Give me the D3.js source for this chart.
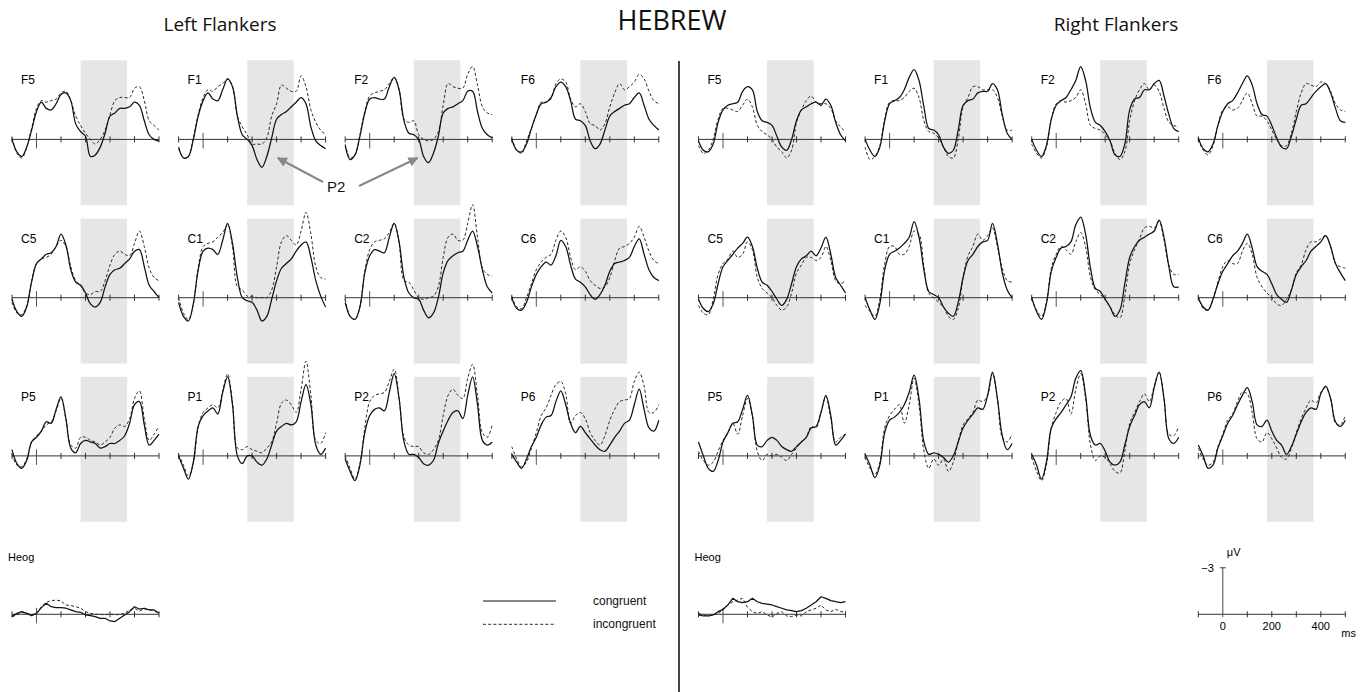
<!DOCTYPE html>
<html>
<head>
<meta charset="utf-8">
<script src="https://cdn.jsdelivr.net/npm/d3@7"></script>
<style>
  html, body { margin: 0; padding: 0; background: #fff; }
  svg { display: block; }
</style>
</head>
<body>
<svg id="chart" width="1368" height="692"></svg>
<script>
// ---- sampling grid and axis definitions ----
const timesMs = [-100,-80,-60,-40,-20,0,20,40,60,80,100,120,140,160,180,200,220,240,260,280,300,320,340,360,380,400,420,440,460,480,500];
const timeAxisMs = [-100,0,100,200,300,400,500];
const scaleLabelsMs = [0,200,400];
const scaleBarUv = -3;
const p2WindowMs = [180,370];
const voltRange = [-5.1, 4.25];           // negative up
const electrodeRows = [["F5","F1","F2","F6"],["C5","C1","C2","C6"],["P5","P1","P2","P6"]];
const conditionNames = ["congruent","incongruent"];

// ---- Left flankers: grand averages (µV), congruent / incongruent ----
const leftF5Con = [0.0,0.8,1.1,0.5,-0.6,-1.8,-2.4,-2.0,-1.9,-2.3,-2.9,-3.0,-2.5,-1.0,-0.5,-0.2,1.1,1.0,0.5,-0.4,-1.5,-1.7,-2.0,-2.0,-2.1,-2.4,-2.2,-1.2,-0.3,0.0,0.1];
const leftF5Inc = [-0.1,0.9,1.2,0.5,-0.7,-2.0,-2.5,-2.4,-2.5,-2.6,-3.0,-3.1,-2.5,-1.5,-0.9,-0.4,0.0,0.3,0.0,-0.6,-1.6,-2.5,-2.7,-2.7,-2.7,-3.3,-3.4,-2.5,-1.2,-0.9,-0.6];
const leftF1Con = [0.5,1.2,1.1,0.0,-1.5,-2.5,-3.0,-2.6,-2.5,-3.2,-3.9,-3.4,-1.5,-0.3,0.0,0.4,1.3,1.8,1.1,-0.1,-1.3,-1.6,-1.8,-2.1,-2.4,-2.7,-2.3,-0.8,0.1,0.4,0.6];
const leftF1Inc = [0.6,1.2,1.1,-0.1,-1.6,-2.7,-3.2,-3.1,-3.4,-3.6,-3.9,-3.4,-1.5,-0.8,-0.3,0.3,0.3,0.3,-0.1,-1.5,-2.3,-3.5,-3.3,-3.1,-3.1,-4.1,-3.4,-1.9,-1.1,-0.6,-0.3];
const leftF2Con = [0.4,1.3,1.0,-0.2,-1.7,-2.6,-2.7,-2.6,-2.6,-3.4,-4.0,-3.2,-1.2,-0.4,-0.3,0.0,1.1,1.5,0.9,-0.2,-1.7,-2.0,-2.1,-2.3,-2.5,-3.1,-3.1,-1.8,-0.7,-0.3,-0.1];
const leftF2Inc = [0.3,1.2,1.0,-0.3,-1.8,-2.8,-3.0,-3.1,-3.2,-3.6,-4.0,-3.2,-1.3,-1.1,-1.2,-0.3,0.0,0.1,0.0,-0.5,-2.2,-3.6,-3.4,-3.3,-3.3,-4.2,-4.7,-3.5,-2.1,-1.7,-1.6];
const leftF6Con = [0.0,0.7,0.8,0.3,-0.7,-1.6,-2.3,-2.4,-2.7,-3.4,-3.7,-3.4,-2.5,-1.3,-1.2,-0.9,0.1,0.6,0.3,-0.6,-1.5,-1.8,-2.0,-2.2,-2.3,-2.7,-3.0,-2.2,-1.3,-0.9,-0.6];
const leftF6Inc = [-0.1,0.7,0.9,0.1,-0.7,-1.6,-2.4,-2.4,-2.6,-3.6,-3.9,-3.7,-2.6,-2.1,-2.3,-1.8,-1.0,-0.9,-0.6,-1.0,-2.1,-3.0,-3.6,-3.2,-3.4,-3.7,-4.2,-3.9,-3.1,-2.5,-2.3];
const leftC5Con = [0.1,0.9,1.2,0.6,-1.0,-2.2,-2.5,-2.8,-2.9,-3.3,-4.1,-3.4,-1.8,-1.0,-0.8,-0.3,0.4,0.6,0.3,-0.7,-1.5,-1.8,-1.9,-2.2,-2.5,-3.0,-3.1,-2.0,-0.8,-0.4,0.0];
const leftC5Inc = [0.3,1.0,1.1,0.5,-1.1,-2.2,-2.5,-2.6,-2.8,-3.3,-3.7,-3.3,-2.0,-1.1,-0.8,-0.3,-0.2,-0.4,-0.4,-1.1,-2.1,-2.8,-3.0,-2.8,-2.7,-3.5,-4.3,-3.3,-1.9,-1.3,-1.1];
const leftC1Con = [0.3,1.2,1.5,0.4,-1.8,-3.0,-3.2,-3.1,-2.8,-3.7,-4.8,-3.5,-1.3,0.0,0.2,0.3,0.8,1.5,1.2,0.1,-1.1,-1.9,-2.2,-2.5,-3.0,-3.4,-3.6,-2.6,-1.1,-0.1,0.6];
const leftC1Inc = [0.0,1.0,1.4,0.4,-1.9,-3.3,-3.5,-3.6,-3.9,-4.2,-4.7,-3.3,-0.7,-0.5,-0.1,-0.1,0.0,0.0,0.0,-0.5,-2.0,-3.6,-4.0,-3.7,-3.4,-4.3,-5.5,-4.1,-2.0,-1.3,-1.2];
const leftC2Con = [0.3,1.2,1.4,0.6,-1.6,-2.7,-3.1,-3.0,-2.9,-3.9,-4.8,-3.6,-1.3,-0.3,0.0,0.1,0.8,1.3,1.0,0.0,-1.6,-2.4,-2.7,-2.9,-3.0,-3.7,-4.3,-3.3,-1.8,-0.7,-0.3];
const leftC2Inc = [0.1,1.2,1.4,0.6,-1.7,-3.1,-3.6,-3.7,-3.8,-4.2,-4.8,-3.5,-1.1,-1.0,-0.5,0.0,0.1,0.0,-0.1,-0.7,-2.6,-3.9,-4.1,-3.7,-3.7,-4.8,-6.0,-3.9,-1.9,-1.5,-1.4];
const leftC6Con = [0.0,0.7,0.8,0.3,-0.7,-1.5,-2.0,-2.3,-2.1,-2.7,-3.7,-3.3,-2.1,-1.2,-1.0,-0.7,-0.2,0.1,-0.2,-0.8,-1.7,-2.2,-2.3,-2.4,-2.6,-3.3,-3.8,-2.8,-1.8,-1.3,-1.1];
const leftC6Inc = [-0.1,0.6,0.7,0.0,-0.9,-1.8,-2.3,-2.6,-2.8,-3.7,-4.3,-3.9,-2.6,-1.8,-2.0,-1.7,-1.1,-0.8,-0.6,-0.7,-1.3,-2.4,-3.2,-3.3,-3.5,-3.9,-4.6,-3.9,-3.0,-2.4,-2.2];
const leftP5Con = [-0.4,0.5,0.8,0.3,-0.9,-1.2,-1.6,-2.2,-2.1,-3.0,-3.8,-2.4,-0.5,-0.2,-0.8,-1.0,-0.9,-0.8,-0.5,-0.6,-0.8,-0.8,-1.0,-1.3,-2.1,-3.3,-3.5,-2.0,-0.7,-1.0,-1.4];
const leftP5Inc = [-0.1,0.6,0.7,0.2,-0.9,-1.3,-1.6,-2.0,-2.2,-2.9,-3.7,-2.4,-0.7,-0.5,-1.2,-1.2,-1.0,-0.9,-0.7,-0.9,-1.2,-1.8,-2.0,-1.9,-2.4,-3.7,-4.2,-2.4,-1.0,-1.4,-1.9];
const leftP1Con = [0.0,0.8,1.5,0.4,-1.9,-2.6,-2.9,-3.1,-2.7,-4.1,-5.1,-3.3,0.0,0.5,0.0,0.0,0.4,0.6,0.2,-0.7,-1.6,-1.9,-2.1,-2.0,-2.2,-3.5,-4.6,-3.3,-0.7,-0.1,-0.5];
const leftP1Inc = [-0.1,0.6,1.3,0.5,-1.9,-2.8,-3.1,-3.3,-3.1,-4.2,-5.3,-3.4,-0.5,-0.4,-0.6,-0.4,-0.3,-0.2,-0.5,-0.9,-2.1,-3.4,-3.6,-3.3,-2.8,-4.3,-6.1,-3.9,-1.0,-0.8,-1.5];
const leftP2Con = [0.2,1.0,1.6,0.6,-1.5,-2.6,-3.0,-3.1,-2.9,-4.1,-5.3,-3.7,-0.9,-0.1,-0.1,0.1,0.5,0.6,0.3,-0.8,-1.6,-2.3,-2.8,-2.9,-2.4,-3.9,-5.1,-3.3,-1.0,-0.7,-0.9];
const leftP2Inc = [0.0,0.8,1.5,0.5,-1.8,-3.5,-3.9,-4.0,-4.1,-4.8,-5.6,-3.7,-1.2,-0.7,-0.6,-0.6,-0.2,-0.1,-0.4,-1.0,-2.6,-3.9,-4.3,-3.9,-3.7,-5.0,-5.9,-3.9,-1.5,-1.2,-2.0];
const leftP6Con = [-0.1,0.4,0.8,0.2,-0.6,-1.2,-2.0,-2.5,-2.6,-3.5,-4.2,-3.3,-2.1,-1.5,-1.9,-1.5,-1.1,-0.7,-0.4,-0.3,-0.7,-1.2,-1.6,-2.1,-2.3,-3.3,-4.3,-3.0,-1.8,-1.6,-2.3];
const leftP6Inc = [-0.6,0.2,0.7,0.4,-0.5,-1.5,-2.6,-3.1,-3.9,-4.6,-4.8,-4.0,-2.1,-2.6,-2.8,-2.4,-1.5,-1.0,-0.7,-1.3,-2.3,-3.0,-3.5,-3.6,-3.7,-4.8,-5.4,-4.5,-2.8,-2.8,-3.3];
const leftHeogCon = [0.15,-0.06,-0.17,-0.06,0.09,-0.06,-0.43,-0.71,-0.49,-0.43,-0.43,-0.39,-0.28,-0.17,-0.13,0.04,0.09,0.15,0.26,0.26,0.43,0.47,0.26,0.04,-0.17,-0.49,-0.34,-0.39,-0.28,-0.28,-0.06];
const leftHeogInc = [0.15,0.04,-0.13,-0.06,0.04,-0.06,-0.49,-0.77,-0.88,-0.92,-0.86,-0.6,-0.56,-0.49,-0.39,-0.17,-0.06,0,0,0.04,-0.02,0.04,0,-0.06,-0.28,-0.39,-0.21,-0.34,-0.28,-0.24,-0.06];

// ---- Right flankers: grand averages (µV), congruent / incongruent ----
const rightF5Con = [0.1,0.7,0.8,0.3,-1.1,-1.9,-2.2,-2.3,-2.4,-3.1,-3.4,-3.2,-1.8,-1.2,-1.1,-0.9,-0.2,0.5,0.7,0.0,-1.2,-1.9,-2.1,-2.3,-2.4,-2.2,-2.6,-2.2,-1.1,-0.3,0.1];
const rightF5Inc = [0.4,0.9,0.7,0.0,-1.3,-2.0,-2.0,-1.9,-1.8,-2.2,-2.6,-2.1,-0.9,-0.5,-0.3,0.0,0.5,0.8,1.2,0.7,-1.1,-1.9,-2.5,-2.8,-2.4,-2.3,-2.3,-2.0,-1.2,-0.8,-0.5];
const rightF1Con = [0.0,0.7,1.1,0.5,-1.2,-2.3,-2.5,-2.7,-3.2,-4.0,-4.5,-3.8,-2.1,-0.7,-0.6,-0.3,0.5,0.9,0.7,-0.6,-2.2,-2.5,-2.6,-3.0,-3.1,-3.1,-3.6,-3.2,-1.6,-0.4,0.0];
const rightF1Inc = [0.5,1.3,1.1,0.4,-1.3,-2.4,-2.5,-2.5,-2.7,-3.1,-3.3,-2.7,-1.2,-0.5,-0.4,-0.1,0.5,1.1,1.2,0.0,-2.1,-2.7,-3.4,-3.4,-3.2,-3.2,-3.2,-2.7,-1.5,-0.6,-0.6];
const rightF2Con = [0.0,0.7,1.1,0.4,-1.3,-2.2,-2.5,-2.7,-3.2,-3.8,-4.7,-3.8,-2.0,-1.1,-0.9,-0.5,0.1,1.0,1.1,0.3,-1.9,-2.6,-2.7,-3.2,-3.2,-3.6,-3.8,-2.8,-1.6,-0.7,-0.5];
const rightF2Inc = [0.3,0.9,1.2,0.5,-1.3,-2.3,-2.5,-2.4,-2.5,-2.7,-3.2,-2.3,-0.9,-0.7,-0.6,-0.3,0.1,0.9,1.3,0.8,-1.2,-2.5,-3.2,-3.6,-3.2,-3.5,-3.1,-2.0,-1.1,-0.9,-0.8];
const rightF6Con = [-0.1,0.6,0.8,0.3,-0.9,-1.8,-2.3,-2.5,-3.0,-3.6,-4.1,-3.5,-2.3,-1.6,-1.5,-0.9,-0.1,0.5,0.6,-0.2,-1.3,-2.2,-2.3,-2.7,-3.1,-3.4,-3.6,-3.0,-2.0,-1.2,-1.1];
const rightF6Inc = [0.0,0.7,1.0,0.4,-0.9,-1.9,-2.1,-1.9,-2.0,-2.5,-3.0,-2.3,-1.5,-1.5,-1.2,-0.6,0.0,0.4,0.4,-0.4,-1.8,-3.0,-3.6,-3.5,-3.4,-3.7,-3.6,-3.1,-2.3,-1.9,-1.8];
const rightC5Con = [0.1,0.7,0.9,0.4,-0.9,-2.0,-2.4,-2.8,-3.2,-3.5,-3.9,-3.3,-1.9,-1.0,-0.8,-0.4,0.1,0.5,0.1,-0.9,-2.0,-2.5,-2.7,-3.0,-2.7,-3.2,-3.9,-2.8,-1.3,-0.8,-0.3];
const rightC5Inc = [0.5,1.0,1.1,0.1,-1.5,-2.2,-2.5,-3.0,-2.6,-2.8,-3.6,-3.1,-1.3,-0.6,-0.3,0.0,0.5,0.8,0.6,-0.3,-1.6,-2.1,-2.6,-2.6,-2.4,-2.6,-3.3,-2.4,-1.1,-0.9,-1.1];
const rightC1Con = [0.0,0.8,1.4,0.4,-1.8,-2.8,-3.0,-3.2,-3.5,-3.9,-4.9,-3.9,-1.8,-0.4,-0.2,0.0,0.6,1.0,1.2,0.3,-1.3,-2.4,-2.8,-3.3,-3.6,-3.7,-4.8,-3.5,-1.6,-0.5,0.0];
const rightC1Inc = [0.5,0.9,1.2,0.1,-2.2,-3.3,-3.3,-2.8,-2.8,-3.3,-4.3,-4.1,-2.0,-0.3,0.0,0.3,0.6,1.2,1.4,0.7,-1.3,-2.7,-3.3,-4.1,-3.7,-4.0,-4.5,-3.3,-1.9,-1.1,-1.0];
const rightC2Con = [0.0,0.9,1.4,0.4,-1.7,-2.6,-3.2,-3.3,-3.6,-4.7,-5.2,-4.1,-1.9,-0.6,-0.4,0.1,0.6,1.2,0.8,-0.9,-2.6,-3.3,-3.7,-3.9,-4.1,-4.3,-5.0,-3.9,-2.0,-0.7,-0.7];
const rightC2Inc = [0.1,0.8,1.2,0.3,-1.9,-2.8,-3.3,-3.1,-2.8,-3.6,-4.2,-3.3,-1.3,-0.5,-0.2,0.1,0.6,1.1,1.3,-0.1,-2.2,-3.1,-3.8,-4.5,-4.6,-4.5,-4.9,-3.7,-2.1,-1.5,-1.5];
const rightC6Con = [0.0,0.6,0.8,0.1,-0.9,-1.7,-2.2,-2.7,-3.0,-3.5,-4.1,-3.2,-2.0,-1.7,-1.5,-0.9,-0.2,0.1,0.3,-0.5,-1.5,-2.0,-2.4,-3.0,-3.3,-3.6,-4.0,-3.3,-2.2,-1.6,-1.1];
const rightC6Inc = [-0.1,0.7,0.8,0.1,-1.0,-2.0,-2.4,-2.2,-2.2,-3.0,-3.5,-2.8,-1.3,-0.7,-0.3,0.0,0.4,0.5,0.1,-0.5,-1.6,-2.1,-3.1,-3.6,-3.6,-3.8,-4.0,-3.3,-2.2,-2.0,-1.9];
const rightP5Con = [-0.9,0.0,0.8,1.0,0.3,-0.9,-1.5,-2.1,-2.2,-3.0,-3.9,-2.6,-0.7,-0.6,-1.0,-1.2,-1.0,-0.6,-0.4,-0.3,-0.6,-0.9,-1.2,-1.8,-1.9,-2.8,-3.9,-2.6,-0.7,-1.0,-1.4];
const rightP5Inc = [-0.3,0.3,0.6,0.4,-0.3,-1.0,-1.5,-2.1,-1.4,-2.6,-3.7,-2.6,-0.3,0.3,-0.1,0.0,-0.1,0.1,0.3,-0.1,-0.5,-0.9,-1.2,-1.9,-1.8,-2.8,-3.8,-2.4,-0.9,-1.2,-1.4];
const rightP1Con = [-0.1,0.6,1.4,0.6,-1.5,-2.3,-2.5,-2.8,-3.3,-4.1,-5.2,-3.7,-0.9,-0.1,-0.2,-0.1,0.1,0.4,0.0,-0.9,-1.8,-2.3,-2.7,-3.1,-3.0,-3.9,-5.4,-3.7,-1.3,-0.4,-0.8];
const rightP1Inc = [0.1,0.8,1.2,0.4,-1.8,-2.6,-3.0,-3.3,-2.1,-3.3,-5.0,-3.3,-0.3,0.8,0.2,0.6,0.2,1.0,0.4,-0.9,-2.0,-2.4,-2.8,-3.6,-3.5,-3.9,-5.3,-3.7,-1.2,-0.9,-1.4];
const rightP2Con = [-0.1,0.6,1.5,0.4,-1.8,-2.4,-2.8,-3.3,-3.8,-5.0,-5.5,-3.9,-1.3,-0.7,-0.8,-0.3,0.4,0.6,0.4,-0.7,-1.9,-2.6,-3.3,-3.5,-3.1,-4.4,-5.4,-3.7,-1.1,-0.8,-1.2];
const rightP2Inc = [0.1,1.0,1.6,0.6,-1.8,-2.8,-3.5,-3.7,-2.7,-4.3,-5.3,-3.7,-0.7,0.3,0.0,0.1,0.5,1.0,1.1,-0.3,-2.1,-2.8,-3.5,-4.0,-3.5,-4.5,-5.4,-3.7,-1.4,-1.3,-1.9];
const rightP6Con = [-0.7,0.0,0.8,0.6,-0.5,-1.3,-2.1,-2.6,-3.3,-3.9,-4.4,-3.5,-2.0,-1.9,-2.3,-1.6,-1.0,-0.7,-0.1,-0.6,-1.4,-2.2,-2.8,-3.1,-3.0,-4.0,-4.5,-3.7,-2.2,-1.9,-2.3];
const rightP6Inc = [-0.5,0.2,0.6,0.4,-0.6,-1.4,-2.3,-2.7,-3.5,-4.1,-4.0,-2.8,-1.1,-0.9,-1.5,-1.1,-0.5,0.1,0.2,-0.5,-1.5,-2.4,-3.1,-3.6,-3.4,-4.1,-4.4,-3.7,-2.1,-2.0,-2.6];
const rightHeogCon = [0.04,0.11,0.11,0.04,-0.17,-0.32,-0.6,-1.03,-0.81,-0.75,-0.81,-1.03,-0.81,-0.71,-0.66,-0.6,-0.49,-0.39,-0.28,-0.24,-0.17,-0.24,-0.39,-0.6,-0.81,-1.13,-1.03,-0.88,-0.81,-0.75,-0.81];
const rightHeogInc = [-0.06,0.04,0.11,0.04,-0.06,-0.28,-0.6,-0.81,-0.92,-1.03,-0.45,-0.17,-0.06,-0.17,0.04,0.19,-0.06,-0.17,0.11,0.15,0.04,0.11,-0.17,-0.28,-0.39,-0.6,-0.28,-0.17,-0.32,-0.17,-0.17];

// ---- per-group lookup tables built from the arrays above ----
const groups = [
  { title: "Left Flankers", heog: [leftHeogCon, leftHeogInc], waves: {
      F5: [leftF5Con, leftF5Inc], F1: [leftF1Con, leftF1Inc], F2: [leftF2Con, leftF2Inc], F6: [leftF6Con, leftF6Inc],
      C5: [leftC5Con, leftC5Inc], C1: [leftC1Con, leftC1Inc], C2: [leftC2Con, leftC2Inc], C6: [leftC6Con, leftC6Inc],
      P5: [leftP5Con, leftP5Inc], P1: [leftP1Con, leftP1Inc], P2: [leftP2Con, leftP2Inc], P6: [leftP6Con, leftP6Inc] } },
  { title: "Right Flankers", heog: [rightHeogCon, rightHeogInc], waves: {
      F5: [rightF5Con, rightF5Inc], F1: [rightF1Con, rightF1Inc], F2: [rightF2Con, rightF2Inc], F6: [rightF6Con, rightF6Inc],
      C5: [rightC5Con, rightC5Inc], C1: [rightC1Con, rightC1Inc], C2: [rightC2Con, rightC2Inc], C6: [rightC6Con, rightC6Inc],
      P5: [rightP5Con, rightP5Inc], P1: [rightP1Con, rightP1Inc], P2: [rightP2Con, rightP2Inc], P6: [rightP6Con, rightP6Inc] } }
];

// ---- layout ----
const svg = d3.select("#chart");
const panelW = 147, panelH = 145;
const groupX = [12, 698.5];
const colStep = 166.6;
const rowTops = [60.3, 218.6, 376.8];
const bottomTop = 535.2;               // heog row and scale bar
const sansSmall = "'Liberation Sans', Arial, Helvetica, sans-serif";
const sansTitle = "'Open Sans', 'Liberation Sans', sans-serif";

function scalesAt(x0, top) {
  return {
    x: d3.scaleLinear().domain([timeAxisMs[0], timeAxisMs[timeAxisMs.length - 1]]).range([x0, x0 + panelW]),
    y: d3.scaleLinear().domain(voltRange).range([top, top + panelH])
  };
}

function drawAxis(g, x, y) {
  const y0 = y(0);
  g.append("line")
    .attr("x1", x.range()[0]).attr("x2", x.range()[1])
    .attr("y1", y0).attr("y2", y0)
    .attr("stroke", "#333").attr("stroke-width", 1);
  g.selectAll("line.tick").data(timeAxisMs).join("line")
    .attr("class", "tick")
    .attr("x1", d => x(d)).attr("x2", d => x(d))
    .attr("y1", d => d === 0 ? y0 - 6.5 : y0 - 3)
    .attr("y2", d => d === 0 ? y0 + 9 : y0 + 3)
    .attr("stroke", d => d === 0 ? "#555" : "#333")
    .attr("stroke-width", 1);
}

function drawTrace(g, x, y, values, dashed, curve) {
  const pts = timesMs.map((t, i) => [t, values[i]]);
  g.append("path").datum(pts)
    .attr("fill", "none")
    .attr("stroke", dashed ? "#2a2a2a" : "#111")
    .attr("stroke-width", dashed ? 1 : 1.25)
    .attr("stroke-dasharray", dashed ? "3,2.2" : null)
    .attr("stroke-linejoin", "round")
    .attr("d", d3.line().x(d => x(d[0])).y(d => y(d[1])).curve(curve));
}

const smooth = d3.curveCatmullRom.alpha(0.5);

groups.forEach((grp, gi) => {
  const gGroup = svg.append("g");
  electrodeRows.forEach((row, ri) => {
    row.forEach((name, ci) => {
      const { x, y } = scalesAt(groupX[gi] + ci * colStep, rowTops[ri]);
      const g = gGroup.append("g");
      // P2 measurement window
      g.append("rect")
        .attr("x", x(p2WindowMs[0])).attr("width", x(p2WindowMs[1]) - x(p2WindowMs[0]))
        .attr("y", y(voltRange[0])).attr("height", y(voltRange[1]) - y(voltRange[0]))
        .attr("fill", "#e6e6e6");
      drawAxis(g, x, y);
      const [con, inc] = grp.waves[name];
      drawTrace(g, x, y, inc, true, smooth);
      drawTrace(g, x, y, con, false, smooth);
      g.append("text")
        .attr("x", x.range()[0] + 9).attr("y", rowTops[ri] + 24)
        .style("font-family", sansSmall).style("font-size", "12px")
        .text(name);
    });
  });
  // Heog
  const h = scalesAt(groupX[gi], bottomTop);
  const gh = gGroup.append("g");
  drawAxis(gh, h.x, h.y);
  drawTrace(gh, h.x, h.y, grp.heog[1], true, d3.curveLinear);
  drawTrace(gh, h.x, h.y, grp.heog[0], false, d3.curveLinear);
  gh.append("text")
    .attr("x", groupX[gi] - 4).attr("y", 560.5)
    .style("font-family", sansSmall).style("font-size", "11px")
    .text("Heog");
});

// ---- titles ----
svg.append("text").attr("x", 220).attr("y", 31).attr("text-anchor", "middle")
  .style("font-family", sansTitle).style("font-size", "19px").attr("fill", "#111").text(groups[0].title);
svg.append("text").attr("x", 1116).attr("y", 31).attr("text-anchor", "middle")
  .style("font-family", sansTitle).style("font-size", "19px").attr("fill", "#111").text(groups[1].title);
svg.append("text").attr("x", 672).attr("y", 30).attr("text-anchor", "middle")
  .style("font-family", sansTitle).style("font-size", "27px").attr("fill", "#111").text("HEBREW");

// divider between the two flanker conditions
svg.append("line").attr("x1", 679).attr("x2", 679).attr("y1", 61).attr("y2", 692)
  .attr("stroke", "#444").attr("stroke-width", 2);

// ---- P2 annotation ----
const defs = svg.append("defs");
defs.append("marker").attr("id", "arrowHead")
  .attr("viewBox", "0 0 10 10").attr("refX", 9).attr("refY", 5)
  .attr("markerWidth", 5).attr("markerHeight", 5).attr("orient", "auto")
  .append("path").attr("d", "M0,0 L10,5 L0,10 z").attr("fill", "#888");
{
  const a = scalesAt(groupX[0] + colStep, rowTops[0]);
  const b = scalesAt(groupX[0] + 2 * colStep, rowTops[0]);
  const tipY = a.y(1.2);
  svg.append("line").attr("x1", 323).attr("y1", 182).attr("x2", a.x(305)).attr("y2", tipY)
    .attr("stroke", "#888").attr("stroke-width", 2).attr("marker-end", "url(#arrowHead)");
  svg.append("line").attr("x1", 359).attr("y1", 186).attr("x2", b.x(195)).attr("y2", tipY)
    .attr("stroke", "#888").attr("stroke-width", 2).attr("marker-end", "url(#arrowHead)");
  svg.append("text").attr("x", 327).attr("y", 192)
    .style("font-family", sansSmall).style("font-size", "15px").attr("fill", "#111").text("P2");
}

// ---- legend ----
const legend = svg.append("g");
conditionNames.forEach((nm, i) => {
  const ly = 601 + i * 23.3;
  legend.append("line").attr("x1", 483).attr("x2", 556).attr("y1", ly).attr("y2", ly)
    .attr("stroke", i ? "#2a2a2a" : "#111").attr("stroke-width", 1)
    .attr("stroke-dasharray", i ? "3,2.2" : null);
  legend.append("text").attr("x", 593).attr("y", ly + 4)
    .style("font-family", sansSmall).style("font-size", "12px").attr("fill", "#111").text(nm);
});

// ---- calibration bar ----
{
  const { x, y } = scalesAt(1198.3, bottomTop);
  const gs = svg.append("g");
  drawAxis(gs, x, y);
  gs.selectAll("line.tick").filter(d => d === 0).attr("y1", y(0)).attr("y2", y(0) + 3);
  gs.append("line").attr("x1", x(0)).attr("x2", x(0)).attr("y1", y(scaleBarUv)).attr("y2", y(0))
    .attr("stroke", "#444").attr("stroke-width", 1);
  gs.append("line").attr("x1", x(0) - 3).attr("x2", x(0) + 3).attr("y1", y(scaleBarUv)).attr("y2", y(scaleBarUv))
    .attr("stroke", "#444").attr("stroke-width", 1);
  gs.append("text").attr("x", x(0) - 9).attr("y", y(scaleBarUv) + 4.5).attr("text-anchor", "end")
    .style("font-family", sansSmall).style("font-size", "11px").text("\u2212" + Math.abs(scaleBarUv));
  gs.append("text").attr("x", x(0) + 4).attr("y", y(scaleBarUv) - 11.5)
    .style("font-family", sansSmall).style("font-size", "11px").text("\u03bcV");
  gs.selectAll("text.ms").data(scaleLabelsMs).join("text").attr("class", "ms")
    .attr("x", d => x(d)).attr("y", y(0) + 15.5).attr("text-anchor", "middle")
    .style("font-family", sansSmall).style("font-size", "11px").text(d => d);
  gs.append("text").attr("x", x(500) - 4).attr("y", y(0) + 23)
    .style("font-family", sansSmall).style("font-size", "11px").text("ms");
}
</script>
</body>
</html>
